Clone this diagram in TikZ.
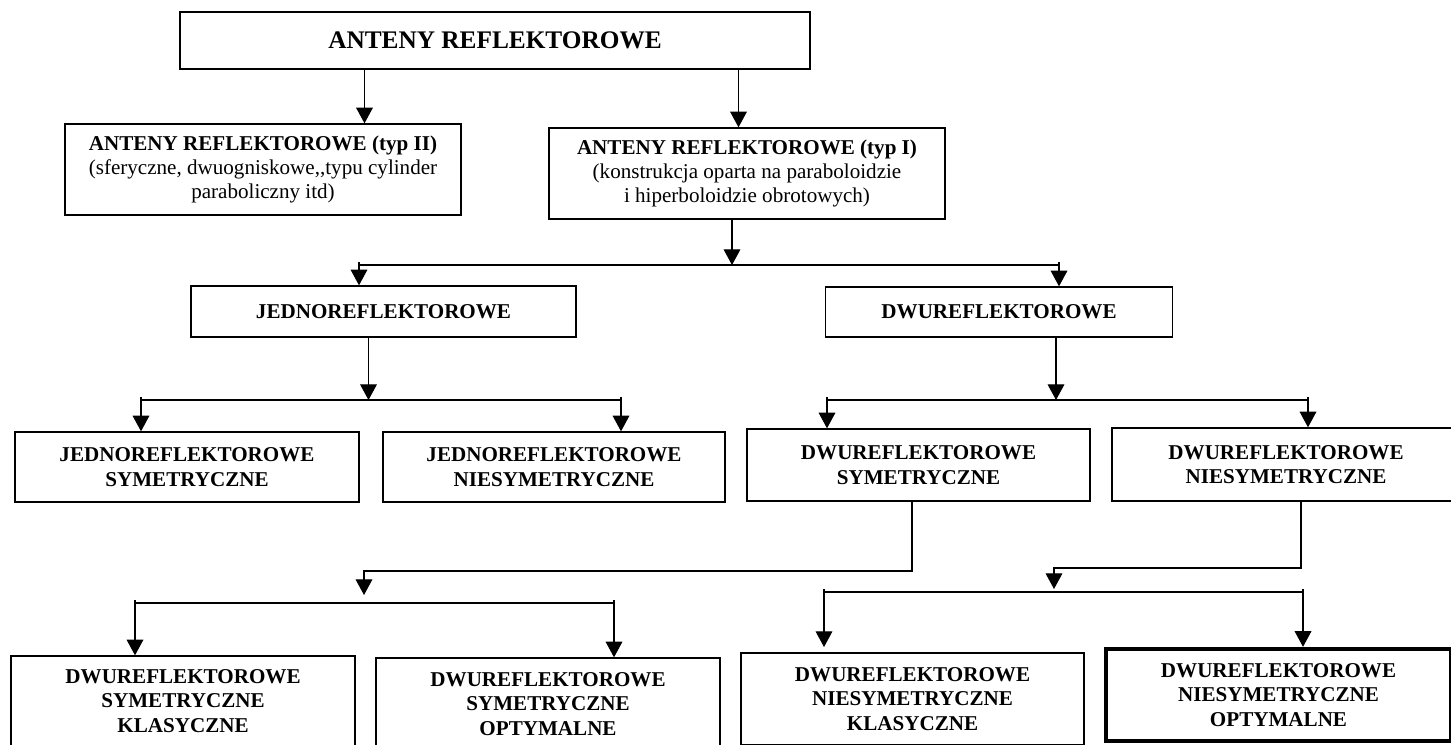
\documentclass[tikz,border=0pt]{standalone}
\usepackage{fontspec}
\setmainfont{Liberation Serif}
\usetikzlibrary{arrows.meta}

\begin{document}
\begin{tikzpicture}[
    box/.style={draw, line width=0.8pt, align=center, inner sep=2pt,
      font=\fontsize{12}{13.8}\selectfont\bfseries},
    arr/.style={line width=0.6pt, -{Triangle[length=8.9pt,width=9.5pt]}},
    link/.style={line width=0.6pt}
  ]
        \useasboundingbox (0,0) rectangle (29.02,-14.88);
        \clip (0,0) rectangle (29.02,-14.88);

        % level 0 and 1
        \node[box, minimum width=12.6cm, minimum height=1.14cm,
              font=\fontsize{14.4}{16}\selectfont\bfseries] (root) at (9.90,-0.81) {ANTENY REFLEKTOROWE};
        \node[box, minimum width=7.92cm, minimum height=1.82cm,
              font=\fontsize{12}{13.8}\selectfont] (typII) at (5.26,-3.39)
            {\textbf{ANTENY REFLEKTOROWE (typ II)}\\ (sferyczne, dwuogniskowe,{},typu cylinder\\ paraboliczny itd)};
        \node[box, minimum width=7.92cm, minimum height=1.82cm,
              font=\fontsize{12}{13.8}\selectfont] (typI) at (14.94,-3.47)
            {\textbf{ANTENY REFLEKTOROWE (typ I)}\\ (konstrukcja oparta na paraboloidzie\\ i hiperboloidzie obrotowych)};

        % level 2
        \node[box, minimum width=7.70cm, minimum height=1.02cm] (jedno) at (7.67,-6.23) {JEDNOREFLEKTOROWE};
        \node[box, minimum width=6.95cm, minimum height=1.00cm] (dwu) at (19.98,-6.24) {DWUREFLEKTOROWE};

        % level 3
        \node[box, minimum width=6.88cm, minimum height=1.40cm] (jsym) at (3.74,-9.34) {JEDNOREFLEKTOROWE\\ SYMETRYCZNE};
        \node[box, minimum width=6.84cm, minimum height=1.40cm] (jniesym) at (11.08,-9.34) {JEDNOREFLEKTOROWE\\ NIESYMETRYCZNE};
        \node[box, minimum width=6.86cm, minimum height=1.44cm] (dsym) at (18.37,-9.30) {DWUREFLEKTOROWE\\ SYMETRYCZNE};
        \node[box, minimum width=6.96cm, minimum height=1.46cm] (dniesym) at (25.72,-9.29) {DWUREFLEKTOROWE\\ NIESYMETRYCZNE};

        % level 4
        \node[box, minimum width=6.88cm, minimum height=1.80cm] (dsk) at (3.66,-14.02) {DWUREFLEKTOROWE\\ SYMETRYCZNE\\ KLASYCZNE};
        \node[box, minimum width=6.88cm, minimum height=1.84cm] (dso) at (10.96,-14.08) {DWUREFLEKTOROWE\\ SYMETRYCZNE\\ OPTYMALNE};
        \node[box, minimum width=6.86cm, minimum height=1.84cm] (dnk) at (18.25,-13.98) {DWUREFLEKTOROWE\\ NIESYMETRYCZNE\\ KLASYCZNE};
        \node[box, line width=2.5pt, minimum width=6.90cm, minimum height=1.84cm] (dno) at (25.57,-13.90) {DWUREFLEKTOROWE\\ NIESYMETRYCZNE\\ OPTYMALNE};

        % root
        \coordinate (c1) at (7.29,0);
        \coordinate (c2) at (14.77,0);
        \draw[arr] (root.south -| c1) -- (typII.north -| c1);
        \draw[arr] (root.south -| c2) -- (typI.north -| c2);

        % typ I
        \coordinate (c3) at (14.64,0);
        \coordinate (j1l) at (7.18,-5.30);
        \coordinate (j1r) at (21.18,-5.30);
        \draw[arr] (typI.south -| c3) -- (c3 |- j1l);
        \draw[link] (j1l) -- (j1r);
        \draw[arr] ([yshift=0.06cm]j1l) -- (jedno.north -| j1l);
        \draw[arr] ([yshift=0.06cm]j1r) -- (dwu.north -| j1r);

        % jedno
        \coordinate (c4) at (7.37,0);
        \coordinate (j2l) at (2.82,-8.00);
        \coordinate (j2r) at (12.42,-8.00);
        \draw[arr] (jedno.south -| c4) -- (c4 |- j2l);
        \draw[link] (j2l) -- (j2r);
        \draw[arr] ([yshift=0.06cm]j2l) -- (jsym.north -| j2l);
        \draw[arr] ([yshift=0.06cm]j2r) -- (jniesym.north -| j2r);

        % dwu
        \coordinate (c5) at (21.12,0);
        \coordinate (j3l) at (16.54,-8.00);
        \coordinate (j3r) at (26.16,-8.00);
        \draw[arr] (dwu.south -| c5) -- (c5 |- j3l);
        \draw[link] (j3l) -- (j3r);
        \draw[arr] ([yshift=0.06cm]j3l) -- (dsym.north -| j3l);
        \draw[arr] ([yshift=0.06cm]j3r) -- (dniesym.north -| j3r);

        % dwu symetryczne
        \coordinate (k1) at (18.24,-11.42);
        \coordinate (k2) at (7.28,-11.42);
        \coordinate (j4l) at (2.70,-12.06);
        \coordinate (j4r) at (12.28,-12.06);
        \draw[arr] (dsym.south -| k1) -- (k1) -- (k2) -- ++(0,-0.48);
        \draw[link] (j4l) -- (j4r);
        \draw[arr] ([yshift=0.06cm]j4l) -- (dsk.north -| j4l);
        \draw[arr] ([yshift=0.06cm]j4r) -- (dso.north -| j4r);

        % dwu niesymetryczne
        \coordinate (k3) at (26.02,-11.36);
        \coordinate (k4) at (21.08,-11.36);
        \coordinate (j5l) at (16.48,-11.84);
        \coordinate (j5r) at (26.06,-11.84);
        \coordinate (t5) at (16.48,-12.94);
        \draw[arr] (dniesym.south -| k3) -- (k3) -- (k4) -- ++(0,-0.42);
        \draw[link] (j5l) -- (j5r);
        \draw[arr] ([yshift=0.06cm]j5l) -- (t5);
        \draw[arr] ([yshift=0.06cm]j5r) -- (dno.north -| j5r);
\end{tikzpicture}
\end{document}
